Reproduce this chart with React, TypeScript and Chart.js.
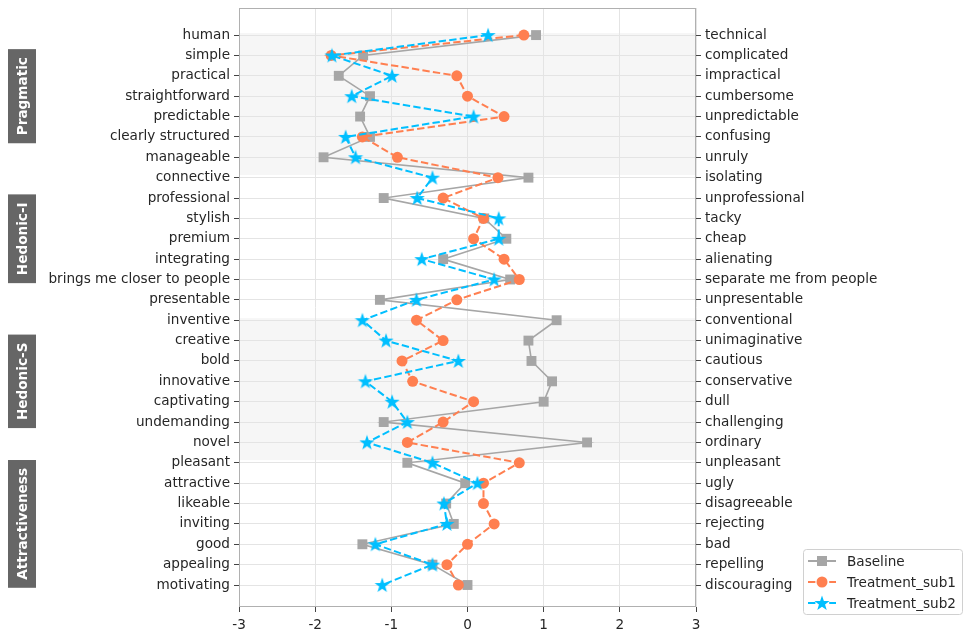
import React, { useEffect, useRef } from "react";
import { Chart, registerables } from "chart.js";
Chart.register(...registerables);

const leftLabels = [
  "human", "simple", "practical", "straightforward", "predictable", "clearly structured", "manageable",
  "connective", "professional", "stylish", "premium", "integrating", "brings me closer to people", "presentable",
  "inventive", "creative", "bold", "innovative", "captivating", "undemanding", "novel",
  "pleasant", "attractive", "likeable", "inviting", "good", "appealing", "motivating",
];
const rightLabels = [
  "technical", "complicated", "impractical", "cumbersome", "unpredictable", "confusing", "unruly",
  "isolating", "unprofessional", "tacky", "cheap", "alienating", "separate me from people", "unpresentable",
  "conventional", "unimaginative", "cautious", "conservative", "dull", "challenging", "ordinary",
  "unpleasant", "ugly", "disagreeable", "rejecting", "bad", "repelling", "discouraging",
];
const baseline = [
  0.90, -1.37, -1.69, -1.28, -1.41, -1.28, -1.89,
  0.80, -1.10, 0.22, 0.51, -0.32, 0.56, -1.15,
  1.17, 0.80, 0.84, 1.11, 1.00, -1.10, 1.57,
  -0.79, -0.03, -0.28, -0.18, -1.38, -0.46, 0.00,
];
const treatmentSub1 = [
  0.74, -1.79, -0.14, 0.00, 0.48, -1.38, -0.92,
  0.40, -0.32, 0.21, 0.08, 0.48, 0.68, -0.14,
  -0.67, -0.32, -0.86, -0.72, 0.08, -0.32, -0.79,
  0.68, 0.21, 0.21, 0.35, 0.00, -0.27, -0.12,
];
const treatmentSub2 = [
  0.27, -1.78, -0.99, -1.52, 0.08, -1.60, -1.47,
  -0.46, -0.66, 0.41, 0.41, -0.60, 0.35, -0.67,
  -1.38, -1.07, -0.12, -1.34, -0.99, -0.79, -1.32,
  -0.46, 0.13, -0.31, -0.27, -1.21, -0.46, -1.12,
];
const groupNames = ["Pragmatic", "Hedonic-I", "Hedonic-S", "Attractiveness"];
const groupStarts = [0, 7, 14, 21];
const groupEnds = [6, 13, 20, 27];
const shadedGroups = [0, 2];
const xTicks = [-3, -2, -1, 0, 1, 2, 3];

const FONT = "'DejaVu Sans', sans-serif";
const FS = 13.6;
const TEXT = "#262626";
const GRID = "#e4e4e4";
const GRAY = "#a6a6a6";
const ORANGE = "#ff7f50";
const BLUE = "#00bfff";
const DASH = [7.4, 3.2];

function makeStar(size: number, color: string) {
  const c = document.createElement("canvas");
  c.width = size;
  c.height = size;
  const ctx = c.getContext("2d")!;
  const cx = size / 2, cy = size / 2 + 0.5, R = size / 2, r = R * 0.4;
  ctx.beginPath();
  for (let i = 0; i < 10; i++) {
    const a = -Math.PI / 2 + (i * Math.PI) / 5;
    const rad = i % 2 ? r : R;
    ctx.lineTo(cx + rad * Math.cos(a), cy + rad * Math.sin(a));
  }
  ctx.closePath();
  ctx.fillStyle = color;
  ctx.fill();
  return c;
}

export default function App() {
  const ref = useRef<HTMLCanvasElement>(null);
  useEffect(() => {
    const star = makeStar(16, BLUE);
    const decor = {
      id: "decor",
      beforeDraw(chart: any) {
        const { ctx, chartArea } = chart;
        const ys = chart.scales.y;
        ctx.save();
        ctx.fillStyle = "#f6f6f6";
        shadedGroups.forEach((g) => {
          const y0 = ys.getPixelForValue(groupStarts[g] - 0.1);
          const y1 = ys.getPixelForValue(groupEnds[g] + 0.87);
          ctx.fillRect(chartArea.left, y0, chartArea.right - chartArea.left, y1 - y0);
        });
        ctx.restore();
      },
      afterDraw(chart: any) {
        const { ctx, chartArea } = chart;
        const ys = chart.scales.y;
        ctx.save();
        ctx.strokeStyle = "#b0b0b0";
        ctx.lineWidth = 1;
        ctx.strokeRect(chartArea.left + 0.5, chartArea.top + 0.5, chartArea.right - chartArea.left - 1, chartArea.bottom - chartArea.top - 1);
        ctx.font = `bold ${FS}px ${FONT}`;
        groupNames.forEach((name, g) => {
          const cy = ys.getPixelForValue((groupStarts[g] + groupEnds[g]) / 2);
          const w = ctx.measureText(name).width + 16;
          ctx.fillStyle = "#666666";
          ctx.fillRect(8, cy - w / 2, 28, w);
          ctx.save();
          ctx.translate(22, cy);
          ctx.rotate(-Math.PI / 2);
          ctx.fillStyle = "#ffffff";
          ctx.textAlign = "center";
          ctx.textBaseline = "middle";
          ctx.fillText(name, 0, 1);
          ctx.restore();
        });
        const lx = 803, ly = 549, lw = 159, lh = 65;
        ctx.fillStyle = "rgba(255,255,255,0.9)";
        ctx.strokeStyle = "#d0d0d0";
        ctx.beginPath();
        (ctx as any).roundRect(lx + 0.5, ly + 0.5, lw, lh, 3);
        ctx.fill();
        ctx.stroke();
        const items = [
          { label: "Baseline", color: GRAY, dash: [] as number[], marker: "rect" },
          { label: "Treatment_sub1", color: ORANGE, dash: DASH, marker: "circle" },
          { label: "Treatment_sub2", color: BLUE, dash: DASH, marker: "star" },
        ];
        items.forEach((it, i) => {
          const y = 561 + i * 21;
          ctx.strokeStyle = it.color;
          ctx.lineWidth = 2;
          ctx.setLineDash(it.dash);
          ctx.beginPath();
          ctx.moveTo(808, y);
          ctx.lineTo(836, y);
          ctx.stroke();
          ctx.setLineDash([]);
          ctx.fillStyle = it.color;
          if (it.marker === "rect") ctx.fillRect(817, y - 5, 10, 10);
          else if (it.marker === "circle") {
            ctx.beginPath();
            ctx.arc(822, y, 5.5, 0, Math.PI * 2);
            ctx.fill();
          } else ctx.drawImage(star, 814, y - 8);
          ctx.fillStyle = TEXT;
          ctx.font = `${FS}px ${FONT}`;
          ctx.textAlign = "left";
          ctx.textBaseline = "middle";
          ctx.fillText(it.label, 847, y + 1);
        });
        ctx.restore();
      },
    };

    const mk = (vals: number[]) => vals.map((v, i) => ({ x: v, y: i }));
    const chart = new Chart(ref.current!, {
      type: "scatter",
      data: {
        datasets: [
          {
            label: "Baseline",
            data: mk(baseline),
            showLine: true,
            borderColor: GRAY,
            backgroundColor: GRAY,
            borderWidth: 1.6,
            pointStyle: "rect",
            pointRadius: 7,
            pointBorderWidth: 0,
            order: 3,
          },
          {
            label: "Treatment_sub1",
            data: mk(treatmentSub1),
            showLine: true,
            borderColor: ORANGE,
            backgroundColor: ORANGE,
            borderWidth: 2,
            borderDash: DASH,
            pointStyle: "circle",
            pointRadius: 5.5,
            pointBorderWidth: 0,
            order: 2,
          },
          {
            label: "Treatment_sub2",
            data: mk(treatmentSub2),
            showLine: true,
            borderColor: BLUE,
            backgroundColor: BLUE,
            borderWidth: 2,
            borderDash: DASH,
            pointStyle: star as any,
            pointRadius: 8,
            pointBorderWidth: 0,
            order: 1,
          },
        ],
      },
      options: {
        responsive: false,
        animation: false,
        devicePixelRatio: 1,
        layout: { padding: { top: 8, left: 0, right: 0, bottom: 0 } },
        plugins: { legend: { display: false }, tooltip: { enabled: false } },
        scales: {
          x: {
            type: "linear",
            min: -3,
            max: 3,
            afterBuildTicks: (s: any) => {
              s.ticks = xTicks.map((v) => ({ value: v }));
            },
            ticks: { color: TEXT, font: { family: FONT, size: FS }, padding: 5, callback: (v: any) => String(v) },
            grid: { color: GRID, tickColor: "#444", tickLength: 5 },
            border: { display: false },
            afterFit: (s: any) => {
              s.height = 31;
              s.paddingLeft = 0;
              s.paddingRight = 0;
            },
          },
          y: {
            type: "linear",
            position: "left",
            reverse: true,
            min: -1.33,
            max: 28.08,
            afterBuildTicks: (s: any) => {
              s.ticks = leftLabels.map((_, i) => ({ value: i }));
            },
            ticks: {
              autoSkip: false,
              color: TEXT,
              font: { family: FONT, size: FS },
              padding: 4,
              callback: (_v: any, i: number) => leftLabels[i],
            },
            grid: { color: GRID, tickColor: "#444", tickLength: 5 },
            border: { display: false },
            afterFit: (s: any) => {
              s.width = 239;
              s.paddingTop = 0;
              s.paddingBottom = 0;
            },
          },
          y2: {
            type: "linear",
            position: "right",
            reverse: true,
            min: -1.33,
            max: 28.08,
            afterBuildTicks: (s: any) => {
              s.ticks = rightLabels.map((_, i) => ({ value: i }));
            },
            ticks: {
              autoSkip: false,
              color: TEXT,
              font: { family: FONT, size: FS },
              padding: 4,
              callback: (_v: any, i: number) => rightLabels[i],
            },
            grid: { drawOnChartArea: false, color: GRID, tickColor: "#444", tickLength: 5 },
            border: { display: false },
            afterFit: (s: any) => {
              s.width = 270;
              s.paddingTop = 0;
              s.paddingBottom = 0;
            },
          },
        },
      } as any,
      plugins: [decor],
    });
    return () => chart.destroy();
  }, []);

  return (
    <div style={{ position: "fixed", left: 0, top: 0, width: 966, height: 638, background: "#fff" }}>
      <canvas ref={ref} width={966} height={638} />
    </div>
  );
}
